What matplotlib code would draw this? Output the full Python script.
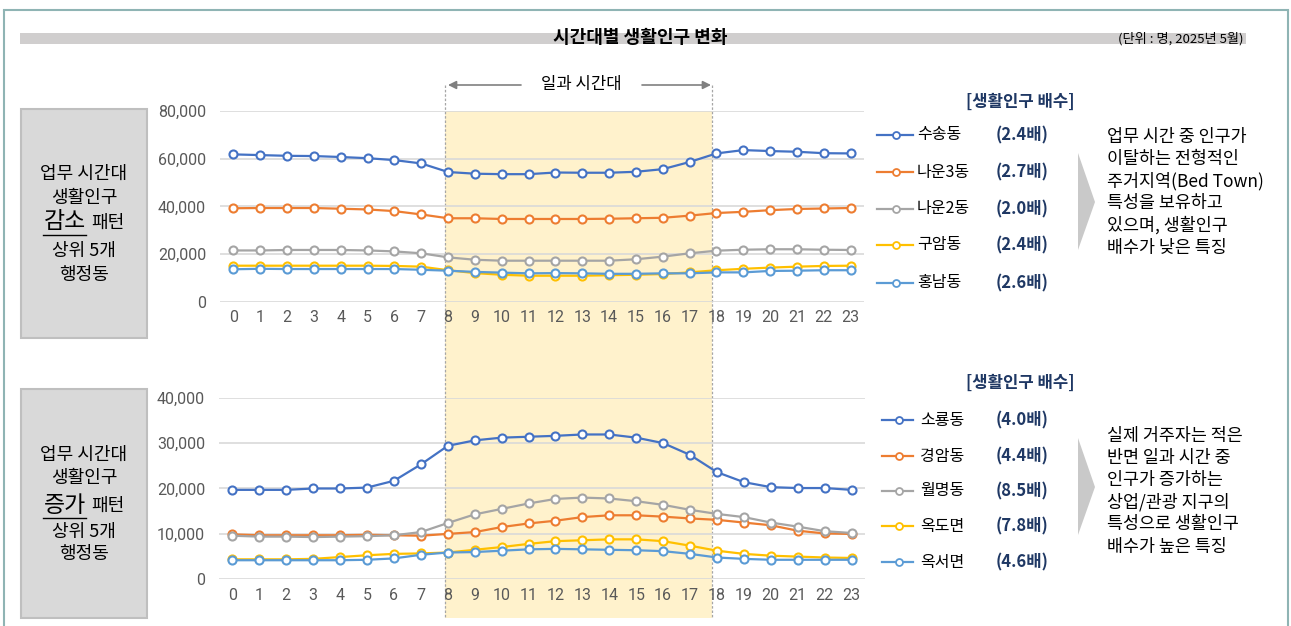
import matplotlib
matplotlib.use("Agg")
import matplotlib.pyplot as plt
from matplotlib.patches import Rectangle, Polygon
from matplotlib.ticker import FuncFormatter
import matplotlib.transforms as mtransforms

plt.rcParams['font.family'] = ['Noto Sans CJK KR', 'DejaVu Sans']

# ---- data -------------------------------------------------------------
hours = list(range(24))
hour_labels = [str(h) for h in hours]

dec_names = ["수송동", "나운3동", "나운2동", "구암동", "홍남동"]
dec_ratios = ["(2.4배)", "(2.7배)", "(2.0배)", "(2.4배)", "(2.6배)"]
suseong = [61800, 61500, 61200, 61100, 60700, 60200, 59400, 58000, 54400, 53700, 53500, 53500,
           54200, 54100, 54100, 54500, 55600, 58600, 62200, 63600, 63200, 62900, 62300, 62200]
nawon3 = [39200, 39300, 39300, 39300, 39000, 38700, 38000, 36600, 35000, 35000, 34700, 34700,
          34700, 34700, 34800, 35000, 35200, 36100, 37200, 37700, 38400, 38900, 39100, 39300]
nawon2 = [21500, 21500, 21700, 21700, 21700, 21500, 21100, 20300, 18600, 17600, 17200, 17200,
          17200, 17200, 17200, 17800, 18900, 20300, 21400, 21800, 22000, 22000, 21800, 21700]
guam = [15100, 15100, 15100, 15100, 15100, 15100, 15000, 14700, 13200, 12000, 11300, 10900,
        10900, 10900, 11100, 11300, 11600, 12300, 13200, 13800, 14300, 14700, 15000, 15100]
hongnam = [13600, 13800, 13700, 13700, 13700, 13700, 13700, 13400, 13000, 12500, 12200, 11900,
           12000, 11900, 11700, 11700, 11900, 11900, 12300, 12300, 12900, 13000, 13200, 13200]
dec_series = [suseong, nawon3, nawon2, guam, hongnam]

inc_names = ["소룡동", "경암동", "월명동", "옥도면", "옥서면"]
inc_ratios = ["(4.0배)", "(4.4배)", "(8.5배)", "(7.8배)", "(4.6배)"]
soryong = [19700, 19700, 19700, 20000, 20000, 20200, 21700, 25300, 29400, 30600, 31200, 31400,
           31600, 31900, 31900, 31200, 30000, 27400, 23600, 21400, 20300, 20100, 20100, 19700]
gyeongam = [9900, 9700, 9700, 9700, 9700, 9800, 9700, 9600, 10000, 10400, 11500, 12300,
            12900, 13700, 14100, 14100, 13800, 13400, 13100, 12500, 11900, 10700, 10100, 10000]
wolmyeong = [9600, 9400, 9400, 9300, 9400, 9500, 9700, 10400, 12400, 14300, 15500, 16700,
             17700, 18000, 17800, 17200, 16400, 15300, 14400, 13700, 12500, 11600, 10600, 10200]
okdo = [4400, 4400, 4400, 4500, 4900, 5300, 5600, 5700, 5900, 6500, 7100, 7800,
        8400, 8600, 8800, 8800, 8400, 7400, 6300, 5600, 5200, 5000, 4800, 4700]
okseo = [4200, 4200, 4200, 4200, 4200, 4300, 4600, 5400, 5900, 6000, 6300, 6600,
         6700, 6600, 6500, 6400, 6200, 5600, 4800, 4500, 4300, 4300, 4300, 4300]
inc_series = [soryong, gyeongam, wolmyeong, okdo, okseo]

dec_ticks = [0, 20000, 40000, 60000, 80000]
inc_ticks = [0, 10000, 20000, 30000, 40000]

dec_desc = ["업무 시간 중 인구가", "이탈하는 전형적인", "주거지역(Bed Town)",
            "특성을 보유하고", "있으며, 생활인구", "배수가 낮은 특징"]
inc_desc = ["실제 거주자는 적은", "반면 일과 시간 중", "인구가 증가하는",
            "상업/관광 지구의", "특성으로 생활인구", "배수가 높은 특징"]

colors = ["#4472C4", "#ED7D31", "#A5A5A5", "#FFC000", "#5B9BD5"]
navy = "#1F3864"
tick_color = "#595959"
grid_color = "#D9D9D9"

# ---- figure -----------------------------------------------------------
W, H = 1291, 626
fig = plt.figure(figsize=(W / 100, H / 100), dpi=100)
fig.patch.set_facecolor("white")

ov = fig.add_axes([0, 0, 1, 1], zorder=0)
ov.set_xlim(0, W)
ov.set_ylim(H, 0)
ov.axis("off")


def px_rect(left, top, right, bottom):
    return [left / W, (H - bottom) / H, (right - left) / W, (bottom - top) / H]


# outer frame
frame_c = "#8FB4B4"
ov.plot([3.5, 3.5], [10, H], color=frame_c, lw=1.5, solid_capstyle="butt")
ov.plot([3.5, 1288], [10, 10], color=frame_c, lw=1.5)
ov.plot([1288, 1288], [10, H], color=frame_c, lw=1.5, solid_capstyle="butt")

# title bar
ov.add_patch(Rectangle((20, 32.5), 1226, 11.5, facecolor="#D0CECE", edgecolor="none"))
ov.text(640, 37.5, "시간대별 생활인구 변화", ha="center", va="center",
        fontsize=13, fontweight="bold", color="black")
ov.text(1181, 38.5, "(단위 : 명, 2025년 5월)", ha="center", va="center",
        fontsize=9.5, color="black")

# chart axes
ax_top = fig.add_axes(px_rect(220, 111, 864, 301.7), zorder=2)
ax_bot = fig.add_axes(px_rect(219, 397.7, 865, 579.3), zorder=2)


def style_axis(ax, ticks):
    ax.set_facecolor("none")
    ax.set_xlim(-0.5, 23.5)
    ax.set_ylim(ticks[0], ticks[-1])
    ax.set_yticks(ticks)
    ax.yaxis.set_major_formatter(FuncFormatter(lambda v, p: f"{int(v):,}"))
    ax.set_xticks(hours)
    ax.set_xticklabels(hour_labels)
    for s in ax.spines.values():
        s.set_visible(False)
    ax.grid(axis="y", color=grid_color, lw=1.2)
    ax.set_axisbelow(True)
    ax.tick_params(axis="both", length=0, labelsize=11.5, colors=tick_color)
    ax.tick_params(axis="y", pad=10)
    ax.tick_params(axis="x", pad=6)
    for lab in ax.get_xticklabels() + ax.get_yticklabels():
        lab.set_fontfamily(["Roboto", "DejaVu Sans"])


style_axis(ax_top, dec_ticks)
style_axis(ax_bot, inc_ticks)

for ax, series in ((ax_top, dec_series), (ax_bot, inc_series)):
    for vals, c in zip(series, colors):
        ax.plot(hours, vals, color=c, lw=1.6, marker="o", ms=5.8,
                markerfacecolor="white", markeredgecolor=c, markeredgewidth=1.5,
                clip_on=False, zorder=3)

# working-hours band spanning both charts
shade_left, shade_right = 7.9, 17.85
band_tf = mtransforms.blended_transform_factory(ax_top.transData, fig.transFigure)
y0 = (H - 618) / H
y1 = (H - 111) / H
ov.add_patch(Rectangle((shade_left, y0), shade_right - shade_left, y1 - y0,
                       transform=band_tf, facecolor="#FFF2CC", edgecolor="none", zorder=0))
for xe in (shade_left, shade_right):
    ov.plot([xe, xe], [(H - 85) / H, y0], transform=band_tf, color="#A6A6A6",
            lw=0.9, ls=(0, (2, 1.5)), zorder=1)

# "일과 시간대" arrows
ov.text(581, 84, "일과 시간대", ha="center", va="center", fontsize=12, color="black")
ov.annotate("", xy=(448, 85), xytext=(521, 85),
            arrowprops=dict(arrowstyle="-|>", color="#808080", lw=1.2,
                            mutation_scale=12, shrinkA=0, shrinkB=0))
ov.annotate("", xy=(711, 85), xytext=(642, 85),
            arrowprops=dict(arrowstyle="-|>", color="#808080", lw=1.2,
                            mutation_scale=12, shrinkA=0, shrinkB=0))

# left boxes
box_font = dict(ha="center", va="center", fontsize=13, fontweight="medium")


def side_box(top, bottom, lines_y, key, key_y):
    ov.add_patch(Rectangle((21, top), 126, bottom - top, facecolor="#D9D9D9",
                           edgecolor="#BFBFBF", lw=1.5))
    ov.text(84, lines_y[0], "업무 시간대", **box_font)
    ov.text(84, lines_y[1], "생활인구", **box_font)
    ov.text(64.5, key_y, key, ha="center", va="center", fontsize=16.5, fontweight="medium")
    ov.plot([43, 86], [key_y + 12.5, key_y + 12.5], color="black", lw=1.0)
    ov.text(108, key_y + 1, "패턴", **box_font)
    ov.text(84, lines_y[2], "상위 5개", **box_font)
    ov.text(84, lines_y[3], "행정동", **box_font)


side_box(109, 338, [174, 198, 251, 275], "감소", 222)
side_box(389, 618, [455, 478, 532, 554], "증가", 505)

# legends
def legend_block(title_y, rows_y, names, ratios, x0, x1, xm, xl):
    ov.text(1020, title_y, "[생활인구 배수]", ha="center", va="center",
            fontsize=12, color=navy, fontweight="bold")
    for y, name, ratio, c in zip(rows_y, names, ratios, colors):
        ov.plot([x0, x1], [y, y], color=c, lw=1.6)
        ov.plot([xm], [y], marker="o", ms=5, markerfacecolor="white",
                markeredgecolor=c, markeredgewidth=1.3)
        ov.text(xl, y, name, ha="left", va="center", fontsize=11.5)
        ov.text(1022, y, ratio, ha="center", va="center", fontsize=12,
                color=navy, fontweight="bold")


legend_block(102, [135, 172, 209, 245, 283], dec_names, dec_ratios, 877, 913, 896, 917)
legend_block(383, [420, 456, 491, 526, 562], inc_names, inc_ratios, 882, 913, 899, 920)

# chevrons
ov.add_patch(Polygon([(1078, 153), (1095, 202), (1078, 250)], closed=True,
                     facecolor="#C9C9C9", edgecolor="none"))
ov.add_patch(Polygon([(1078, 438), (1095, 487), (1078, 535)], closed=True,
                     facecolor="#C9C9C9", edgecolor="none"))

# descriptions
for y, line in zip([137, 159, 181, 203, 225, 248], dec_desc):
    ov.text(1107, y, line, ha="left", va="center", fontsize=12.5, fontweight="medium")
for y, line in zip([436, 458, 480, 502, 524, 547], inc_desc):
    ov.text(1107, y, line, ha="left", va="center", fontsize=12.5, fontweight="medium")

fig.savefig("out.png", dpi=100, facecolor="white")
